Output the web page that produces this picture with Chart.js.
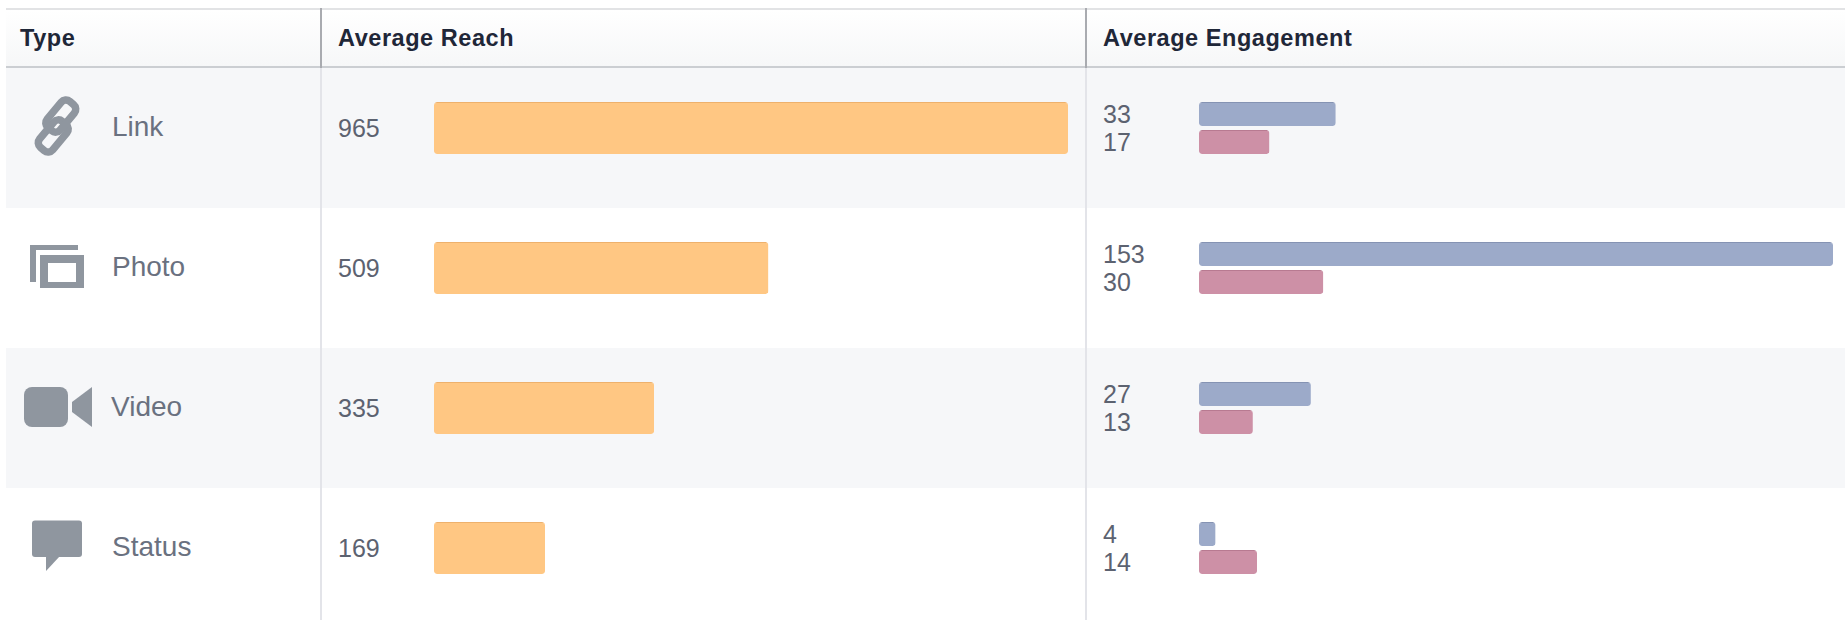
<!DOCTYPE html>
<html>
<head>
<meta charset="utf-8">
<title>Post types</title>
<script src="https://cdn.jsdelivr.net/npm/chart.js@4/dist/chart.umd.min.js"></script>
<style>
  html, body { margin: 0; padding: 0; background: #fff; }
  #page { position: relative; width: 1845px; height: 620px; overflow: hidden; font-family: "Liberation Sans", Arial, sans-serif; }
  #page > * { position: absolute; }
  .topline { left: 6px; right: 0; top: 8px; height: 2px; background: #e2e3e5; }
  .head { left: 6px; right: 0; top: 10px; height: 56px; background: linear-gradient(#fff, #f6f7f8); }
  .botline { left: 6px; right: 0; top: 66px; height: 2px; background: #cbced2; }
  .band { left: 6px; right: 0; height: 140px; background: #f6f7f9; }
  .vline { width: 2px; top: 68px; bottom: 0; background: #e3e4e9; }
  .vhead { width: 2px; top: 8px; height: 60px; background: #a9abb0; }
  .th { font-weight: bold; font-size: 23.5px; color: #1f2738; top: 25px; line-height: 26px; letter-spacing: .55px; white-space: nowrap; }
  .cat { font-size: 28px; color: #6a7180; line-height: 32px; white-space: nowrap; }
  .val { font-size: 25px; color: #5c6270; line-height: 28px; white-space: nowrap; }
  svg { left: 0; top: 0; }
  .plot { top: 58px; height: 560px; }
</style>
</head>
<body>
<div id="page">
  <div class="topline"></div>
  <div class="head"></div>
  <div class="botline"></div>
  <div class="band" style="top:68px"></div>
  <div class="band" style="top:348px"></div>
  <div class="vhead" style="left:320px"></div>
  <div class="vhead" style="left:1085px"></div>
  <div class="vline" style="left:320px"></div>
  <div class="vline" style="left:1085px"></div>
  <div class="th" style="left:20px">Type</div>
  <div class="th" style="left:338px">Average Reach</div>
  <div class="th" style="left:1103px">Average Engagement</div>

  <svg width="1845" height="620" fill="#8f969f">
    <!-- link -->
    <g fill="none" stroke="#8f969f" stroke-width="7.5" transform="rotate(-50 57 126)">
      <rect x="30" y="121" width="34" height="17" rx="6"/>
      <rect x="50" y="114" width="34" height="17" rx="6"/>
    </g>
    <!-- photo -->
    <path d="M30 245 H78 V250 H36 V282 H30 Z"/>
    <path fill-rule="evenodd" d="M40 255 H84 V288 H40 Z M48 263 V282 H76 V263 Z"/>
    <!-- video -->
    <rect x="24" y="387" width="44" height="40" rx="8"/>
    <path d="M92 387 L72 402 V412 L92 427 Z"/>
    <!-- status -->
    <rect x="32" y="520.5" width="50" height="36.5" rx="3"/>
    <path d="M46 556 V571 L60 556 Z"/>
  </svg>

  <div class="plot" style="left:434px;width:634px"><canvas id="cReach"></canvas></div>
  <div class="plot" style="left:1199px;width:634px"><canvas id="cEngage"></canvas></div>
</div>

<script>
const types = ['Link', 'Photo', 'Video', 'Status'];
const reach = [965, 509, 335, 169];
const engageBlue = [33, 153, 27, 4];
const engagePink = [17, 30, 13, 14];

const page = document.getElementById('page');

// Texto de las filas, una fila cada 140px
function addText(cls, text, x, cy, h) {
  const el = document.createElement('div');
  el.className = cls;
  el.textContent = text;
  el.style.left = x + 'px';
  el.style.top = (cy - h / 2) + 'px';
  page.appendChild(el);
}
types.forEach((t, i) => {
  const y = 140 * i;
  addText('cat', t, t === 'Video' ? 111 : 112, 127 + y, 32);
  addText('val', reach[i], 338, 128 + y, 28);
  addText('val', engageBlue[i], 1103, 114 + y, 28);
  addText('val', engagePink[i], 1103, 142 + y, 28);
});

function barChart(id, datasets, max, catPct, barPct) {
  return new Chart(document.getElementById(id).getContext('2d'), {
    type: 'bar',
    data: { labels: types, datasets },
    options: {
      indexAxis: 'y',
      responsive: true, maintainAspectRatio: false,
      animation: false,
      layout: { padding: 0 },
      datasets: { bar: { categoryPercentage: catPct, barPercentage: barPct } },
      plugins: { legend: { display: false }, tooltip: { enabled: false } },
      scales: {
        x: { display: false, min: 0, max },
        y: { display: false }
      }
    }
  });
}

const barStyle = { borderRadius: 3, borderSkipped: false, borderWidth: { top: 1, left: 0, right: 0, bottom: 0 } };

barChart('cReach', [
  { label: 'Average Reach', data: reach, backgroundColor: '#ffc783', borderColor: '#eeb16c', ...barStyle }
], 965, 52 / 140, 1);

barChart('cEngage', [
  { label: 'Engagement A', data: engageBlue, backgroundColor: '#9caac9', borderColor: '#8593b3', ...barStyle },
  { label: 'Engagement B', data: engagePink, backgroundColor: '#cd90a6', borderColor: '#b87a91', ...barStyle }
], 153, 56 / 140, 24 / 28);
</script>
</body>
</html>
